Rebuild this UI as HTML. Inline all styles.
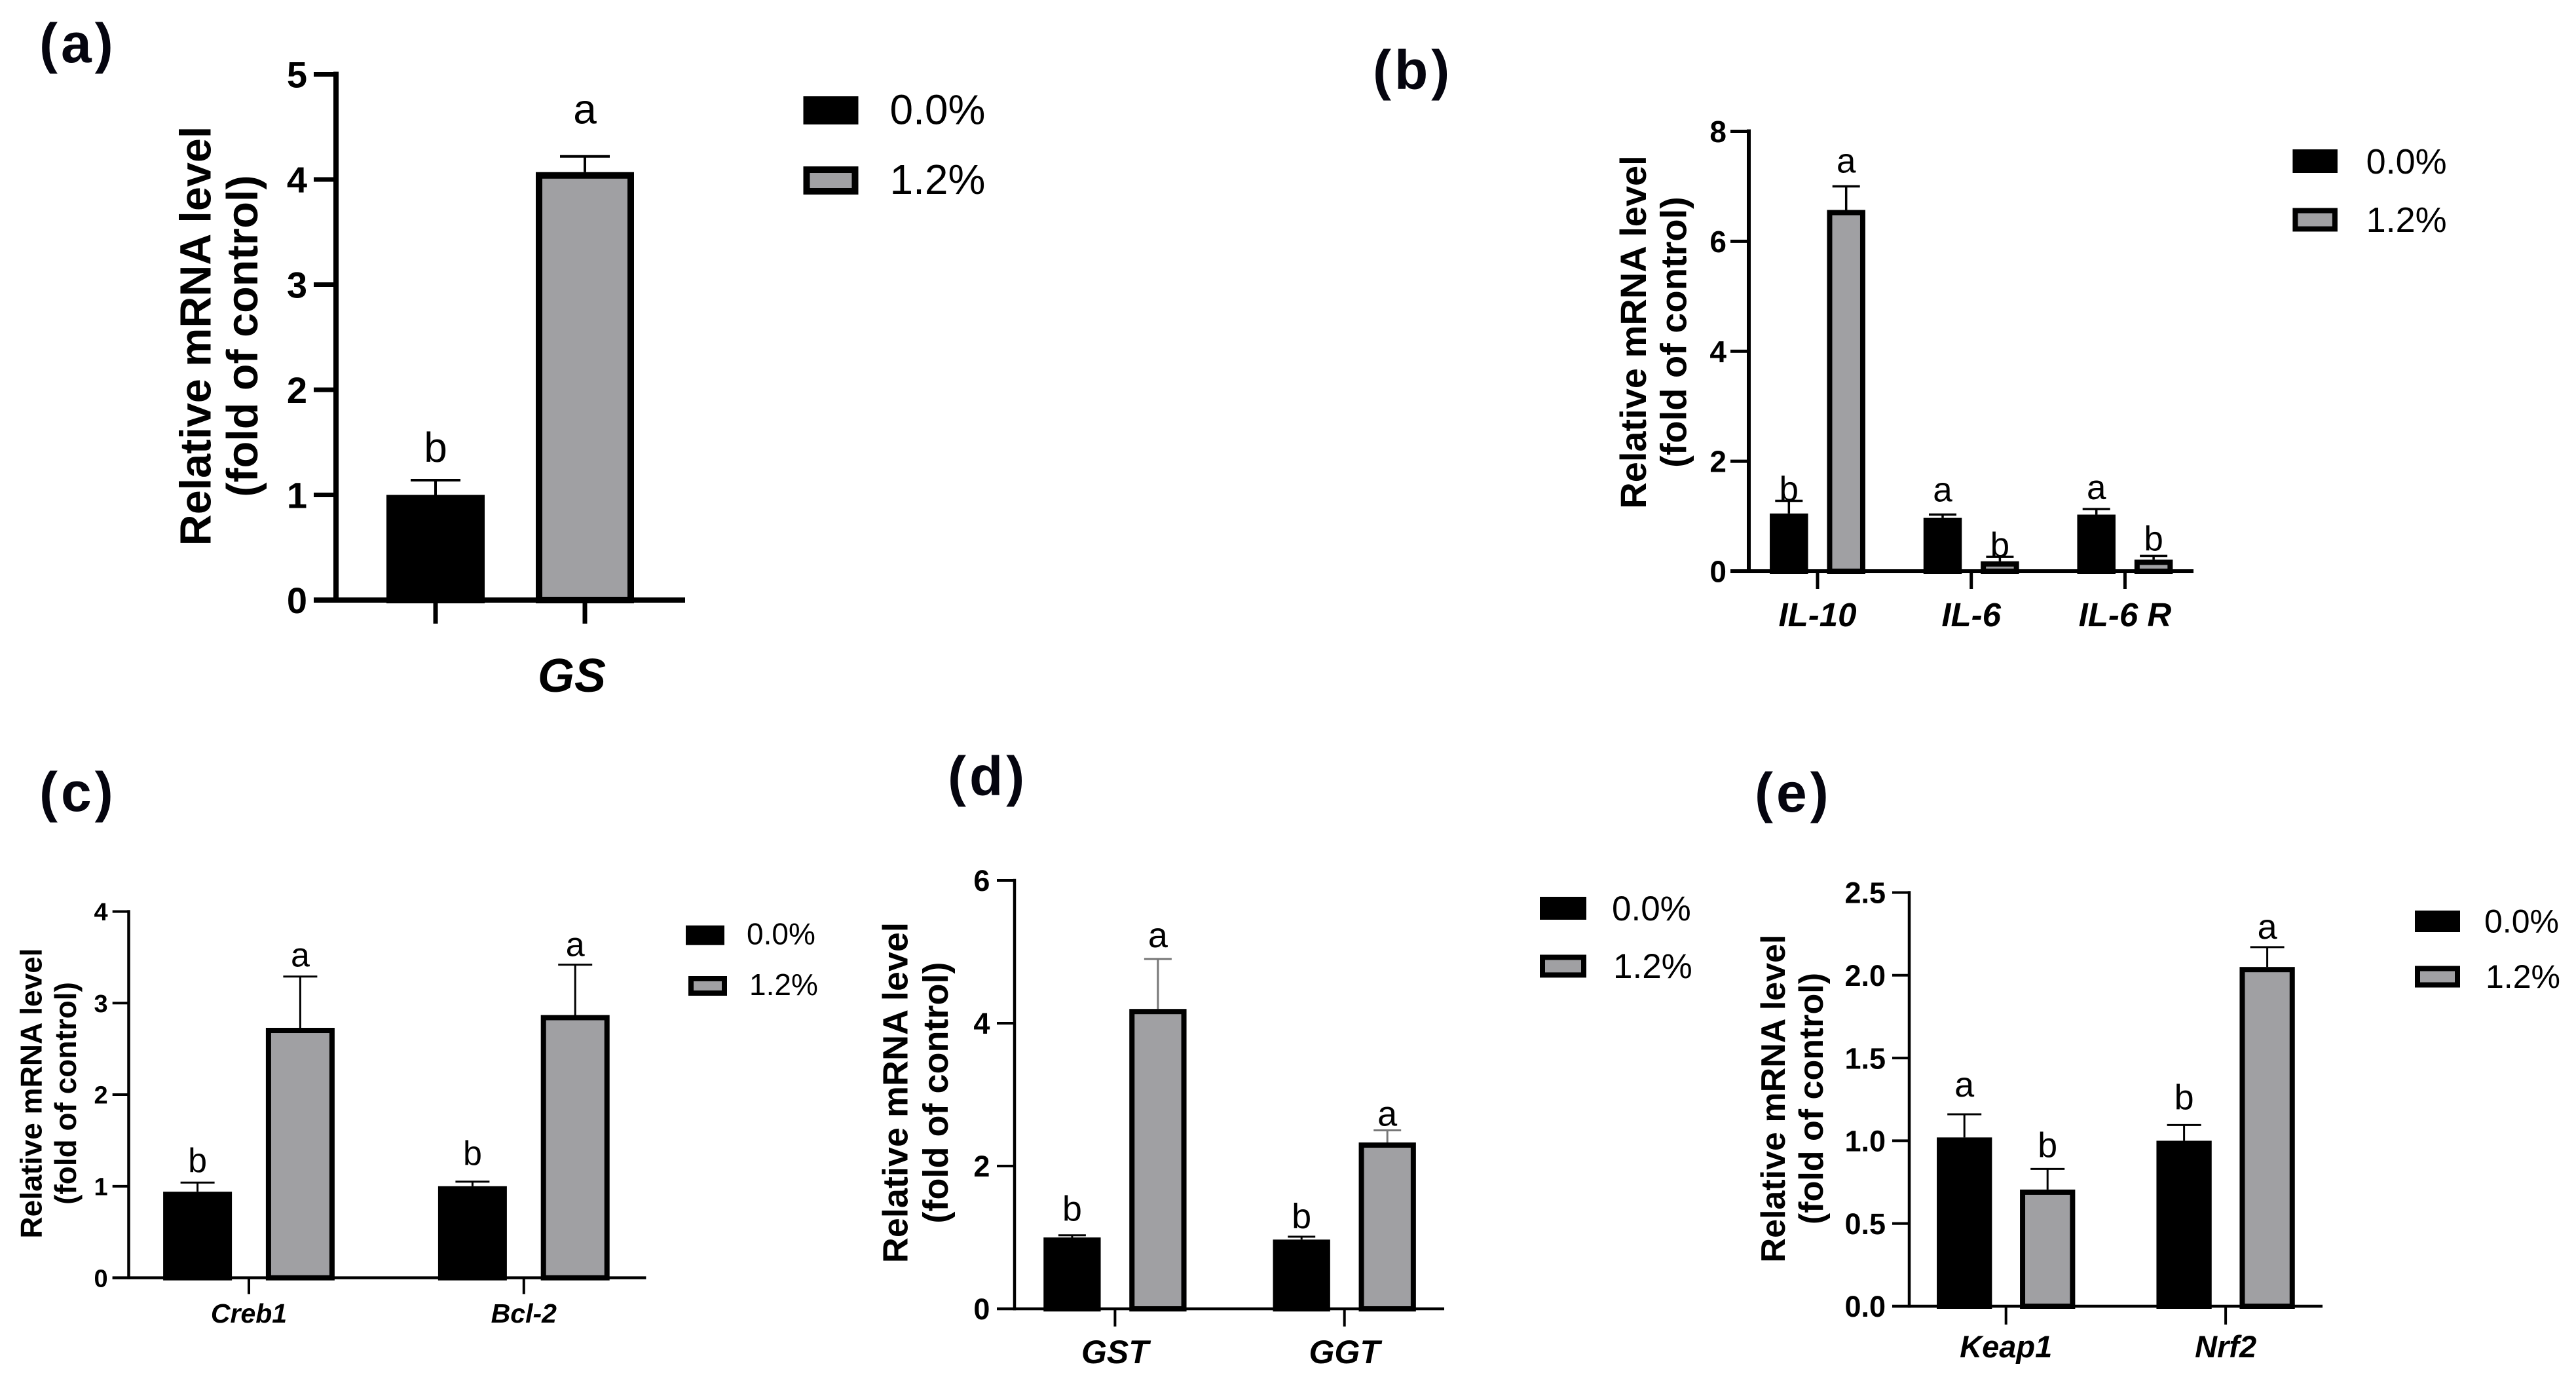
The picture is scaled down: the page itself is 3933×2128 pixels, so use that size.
<!DOCTYPE html>
<html lang="en">
<head>
<meta charset="utf-8">
<title>Relative mRNA level panels</title>
<style>
  html, body { margin: 0; padding: 0; background: #fff; }
  svg { display: block; font-family: "Liberation Sans", sans-serif; }
</style>
</head>
<body>
<svg id="figure" xmlns="http://www.w3.org/2000/svg" width="3933" height="2128" viewBox="0 0 3933 2128">
  <rect x="0" y="0" width="3933" height="2128" fill="#ffffff"/>
</svg>
<script>
// ---- chart data ----
const seriesNames = ["0.0%", "1.2%"];

const aCategories = ["GS"];
const aControl = [1.0];
const aTreated = [4.07];
const aControlErr = [1.14];
const aTreatedErr = [4.22];
const aControlLetters = ["b"];
const aTreatedLetters = ["a"];
const aTicks = ["0", "1", "2", "3", "4", "5"];

const bCategories = ["IL-10", "IL-6", "IL-6 R"];
const bControl = [1.05, 0.97, 1.03];
const bTreated = [6.57, 0.18, 0.21];
const bControlErr = [1.28, 1.03, 1.13];
const bTreatedErr = [7.0, 0.26, 0.28];
const bControlLetters = ["b", "a", "a"];
const bTreatedLetters = ["a", "b", "b"];
const bTicks = ["0", "2", "4", "6", "8"];

const cCategories = ["Creb1", "Bcl-2"];
const cControl = [0.94, 1.0];
const cTreated = [2.73, 2.87];
const cControlErr = [1.04, 1.05];
const cTreatedErr = [3.29, 3.42];
const cControlLetters = ["b", "b"];
const cTreatedLetters = ["a", "a"];
const cTicks = ["0", "1", "2", "3", "4"];

const dCategories = ["GST", "GGT"];
const dControl = [1.0, 0.97];
const dTreated = [4.2, 2.33];
const dControlErr = [1.03, 1.01];
const dTreatedErr = [4.9, 2.5];
const dControlLetters = ["b", "b"];
const dTreatedLetters = ["a", "a"];
const dTicks = ["0", "2", "4", "6"];

const eCategories = ["Keap1", "Nrf2"];
const eControl = [1.02, 1.0];
const eTreated = [0.705, 2.05];
const eControlErr = [1.16, 1.095];
const eTreatedErr = [0.83, 2.17];
const eControlLetters = ["a", "b"];
const eTreatedLetters = ["b", "a"];
const eTicks = ["0.0", "0.5", "1.0", "1.5", "2.0", "2.5"];

// ---- drawing ----
const GRAY = "#a0a0a3";
const svg = document.getElementById("figure");
const NS = "http://www.w3.org/2000/svg";

function mk(tag, attrs, parent) {
  const el = document.createElementNS(NS, tag);
  for (const k in attrs) el.setAttribute(k, attrs[k]);
  (parent || svg).appendChild(el);
  return el;
}

function line(parent, x1, y1, x2, y2, w, color) {
  return mk("line", { x1: x1, y1: y1, x2: x2, y2: y2, stroke: color || "#000", "stroke-width": w }, parent);
}

function txt(parent, s, x, y, size, opts) {
  const el = mk("text", Object.assign({ x: x, y: y, "font-size": size, fill: "#000" }, opts || {}), parent);
  el.textContent = s;
  return el;
}

function drawPanel(p) {
  const g = mk("g", {});
  
  

  // axis functions
  const yMax = parseFloat(p.ticks[p.ticks.length - 1]);
  const yScale = v => p.y0 - (v / yMax) * (p.y0 - p.yTop);
  const groupX = i => p.gx + i * p.gstep;

  // panel letter
  const lab = txt(g, "(" + p.id + ")", p.labelX, p.labelY, 84, { "font-weight": "bold", "letter-spacing": "5", fill: "#05050f" });
  
  

  // y title
  const t1 = txt(g, "Relative mRNA level", p.title1X, p.titleCy, p.titleSize, {
    "font-weight": "bold", "text-anchor": "middle",
    transform: "rotate(-90 " + p.title1X + " " + p.titleCy + ")"
  });
  
  
  const t2 = txt(g, "(fold of control)", p.title2X, p.titleCy, p.titleSize, {
    "font-weight": "bold", "text-anchor": "middle",
    transform: "rotate(-90 " + p.title2X + " " + p.titleCy + ")"
  });
  
  

  // bars and error bars
  function drawBar(cx, value, err, isGray, letter, pad, name) {
    const top = yScale(value);
    const errTop = yScale(err);
    const el = line(g, cx, errTop, cx, top, p.errW, isGray && p.grayErr ? "#777" : "#000");
    
    
    const cap = line(g, cx - p.cap, errTop, cx + p.cap, errTop, p.errW, isGray && p.grayErr ? "#777" : "#000");
    
    
    const s = p.barStroke;
    const bar = mk("rect", {
      x: cx - p.bw / 2 + s / 2, y: top + s / 2,
      width: p.bw - s, height: Math.max(0, p.y0 - top - s / 2),
      fill: isGray ? GRAY : "#000", stroke: "#000", "stroke-width": s
    }, g);
    
    
    const sig = txt(g, letter, cx, errTop - pad, p.letterSize, { "text-anchor": "middle" });
    
    
  }

  p.categories.forEach((cat, i) => {
    const gx = groupX(i);
    const key = cat.toLowerCase().replace(/\s+/g, '-');
    drawBar(gx - p.off, p.control[i], p.controlErr[i], false, p.controlLetters[i], p.pads[i][0], key + '-control');
    drawBar(gx + p.off, p.treated[i], p.treatedErr[i], true, p.treatedLetters[i], p.pads[i][1], key + '-treated');

    const xs = p.tickPerBar ? [gx - p.off, gx + p.off] : [gx];
    xs.forEach(x => {
      const tk = line(g, x, p.y0, x, p.xTickEnd, p.tickW);
      
      
    });

    const lx = p.catLabelX !== undefined ? p.catLabelX : gx;
    const cl = txt(g, cat, lx, p.catY, p.catSize, { "font-weight": "bold", "font-style": "italic", "text-anchor": "middle" });
    
    
  });

  // axes
  const yAxis = line(g, p.x0, p.yTop - p.axisW / 2, p.x0, p.y0 + p.axisW / 2, p.axisW);
  
  
  const xAxis = line(g, p.xStart, p.y0, p.xEnd, p.y0, p.axisW);
  
  

  p.ticks.forEach(label => {
    const y = yScale(parseFloat(label));
    const tk = line(g, p.xStart, y, p.x0, y, p.tickW);
    
    
    const tl = txt(g, label, p.tickRight, y + p.tickSize * 0.36, p.tickSize, { "font-weight": "bold", "text-anchor": "end" });
    
    
  });

  // legend
  seriesNames.forEach((name, i) => {
    const l = p.legend[i];
    const s = p.barStroke;
    const sw = mk("rect", {
      x: l.x + s / 2, y: l.y + s / 2, width: p.legendW - s, height: p.legendH - s,
      fill: i === 0 ? "#000" : GRAY, stroke: "#000", "stroke-width": s
    }, g);
    
    
    const lt = txt(g, name, l.tx, l.ty, p.legendSize);
    
    
  });
}

drawPanel({
  id: "a", categories: aCategories, control: aControl, treated: aTreated,
  controlErr: aControlErr, treatedErr: aTreatedErr,
  controlLetters: aControlLetters, treatedLetters: aTreatedLetters, ticks: aTicks,
  x0: 513, y0: 916, yTop: 113.5, xStart: 479, xEnd: 1046, axisW: 8, tickW: 7,
  gx: 779, gstep: 0, off: 114, bw: 150, barStroke: 10, errW: 4, cap: 38,
  tickPerBar: true, xTickEnd: 952, catLabelX: 873, catY: 1056, catSize: 72,
  pads: [[28, 50]], letterSize: 64, tickRight: 469, tickSize: 56,
  title1X: 321.5, title2X: 393, titleCy: 513, titleSize: 66.5,
  labelX: 60, labelY: 95, legendW: 84, legendH: 43, legendSize: 64,
  legend: [{ x: 1226.5, y: 147, tx: 1358.5, ty: 189.5 }, { x: 1226.5, y: 254, tx: 1358.5, ty: 296 }]
});

drawPanel({
  id: "b", categories: bCategories, control: bControl, treated: bTreated,
  controlErr: bControlErr, treatedErr: bTreatedErr,
  controlLetters: bControlLetters, treatedLetters: bTreatedLetters, ticks: bTicks,
  x0: 2670, y0: 872, yTop: 200.5, xStart: 2642, xEnd: 3349, axisW: 6, tickW: 5,
  gx: 2775, gstep: 234.7, off: 43.7, bw: 58.5, barStroke: 8, errW: 3.5, cap: 21,
  xTickEnd: 899, catY: 956, catSize: 51,
  pads: [[0, 21], [20, 0], [15, 8]], letterSize: 53, tickRight: 2636, tickSize: 46,
  title1X: 2513, title2X: 2574.5, titleCy: 507, titleSize: 56,
  labelX: 2096, labelY: 136, legendW: 68.5, legendH: 36, legendSize: 54,
  legend: [{ x: 3500.4, y: 228, tx: 3612.6, ty: 265 }, { x: 3500.4, y: 317.5, tx: 3612.6, ty: 354 }]
});

drawPanel({
  id: "c", categories: cCategories, control: cControl, treated: cTreated,
  controlErr: cControlErr, treatedErr: cTreatedErr,
  controlLetters: cControlLetters, treatedLetters: cTreatedLetters, ticks: cTicks,
  x0: 196.5, y0: 1950.6, yTop: 1391.5, xStart: 171.7, xEnd: 986.4, axisW: 4.5, tickW: 4,
  gx: 380, gstep: 419.8, off: 78.4, bw: 105, barStroke: 8, errW: 3, cap: 26,
  xTickEnd: 1975.4, catY: 2019, catSize: 41,
  pads: [[16, 15], [26, 13]], letterSize: 52, tickRight: 164.7, tickSize: 38,
  title1X: 63.5, title2X: 116, titleCy: 1669, titleSize: 46,
  labelX: 60, labelY: 1238, legendW: 59, legendH: 30, legendSize: 46,
  legend: [{ x: 1047, y: 1412.7, tx: 1140, ty: 1441.5 }, { x: 1051, y: 1490, tx: 1144, ty: 1519 }]
});

drawPanel({
  id: "d", categories: dCategories, control: dControl, treated: dTreated,
  controlErr: dControlErr, treatedErr: dTreatedErr,
  controlLetters: dControlLetters, treatedLetters: dTreatedLetters, ticks: dTicks,
  x0: 1549, y0: 1998, yTop: 1344, xStart: 1522, xEnd: 2205, axisW: 4.5, tickW: 4,
  gx: 1702.4, gstep: 350.3, off: 65.5, bw: 87.3, barStroke: 8, errW: 3, cap: 21, grayErr: true,
  xTickEnd: 2025, catY: 2081, catSize: 50,
  pads: [[22, 18], [13, 7]], letterSize: 54, tickRight: 1511.4, tickSize: 45,
  title1X: 1385.3, title2X: 1447, titleCy: 1668, titleSize: 54,
  labelX: 1447, labelY: 1214, legendW: 71, legendH: 35, legendSize: 53,
  legend: [{ x: 2351, y: 1369, tx: 2461, ty: 1405 }, { x: 2351, y: 1457.4, tx: 2463, ty: 1493 }]
});

drawPanel({
  id: "e", categories: eCategories, control: eControl, treated: eTreated,
  controlErr: eControlErr, treatedErr: eTreatedErr,
  controlLetters: eControlLetters, treatedLetters: eTreatedLetters, ticks: eTicks,
  x0: 2915, y0: 1994, yTop: 1362.5, xStart: 2889, xEnd: 3546, axisW: 4.5, tickW: 4,
  gx: 3062.7, gstep: 335.4, off: 63.5, bw: 84.3, barStroke: 8, errW: 3, cap: 26,
  xTickEnd: 2022, catY: 2072, catSize: 47,
  pads: [[27, 18], [24, 13]], letterSize: 54, tickRight: 2879, tickSize: 45,
  title1X: 2725, title2X: 2783, titleCy: 1677, titleSize: 52,
  labelX: 2679, labelY: 1239, legendW: 69, legendH: 33, legendSize: 50,
  legend: [{ x: 3687, y: 1390, tx: 3793, ty: 1423.6 }, { x: 3687, y: 1474.5, tx: 3795, ty: 1508 }]
});
</script>
</body>
</html>
